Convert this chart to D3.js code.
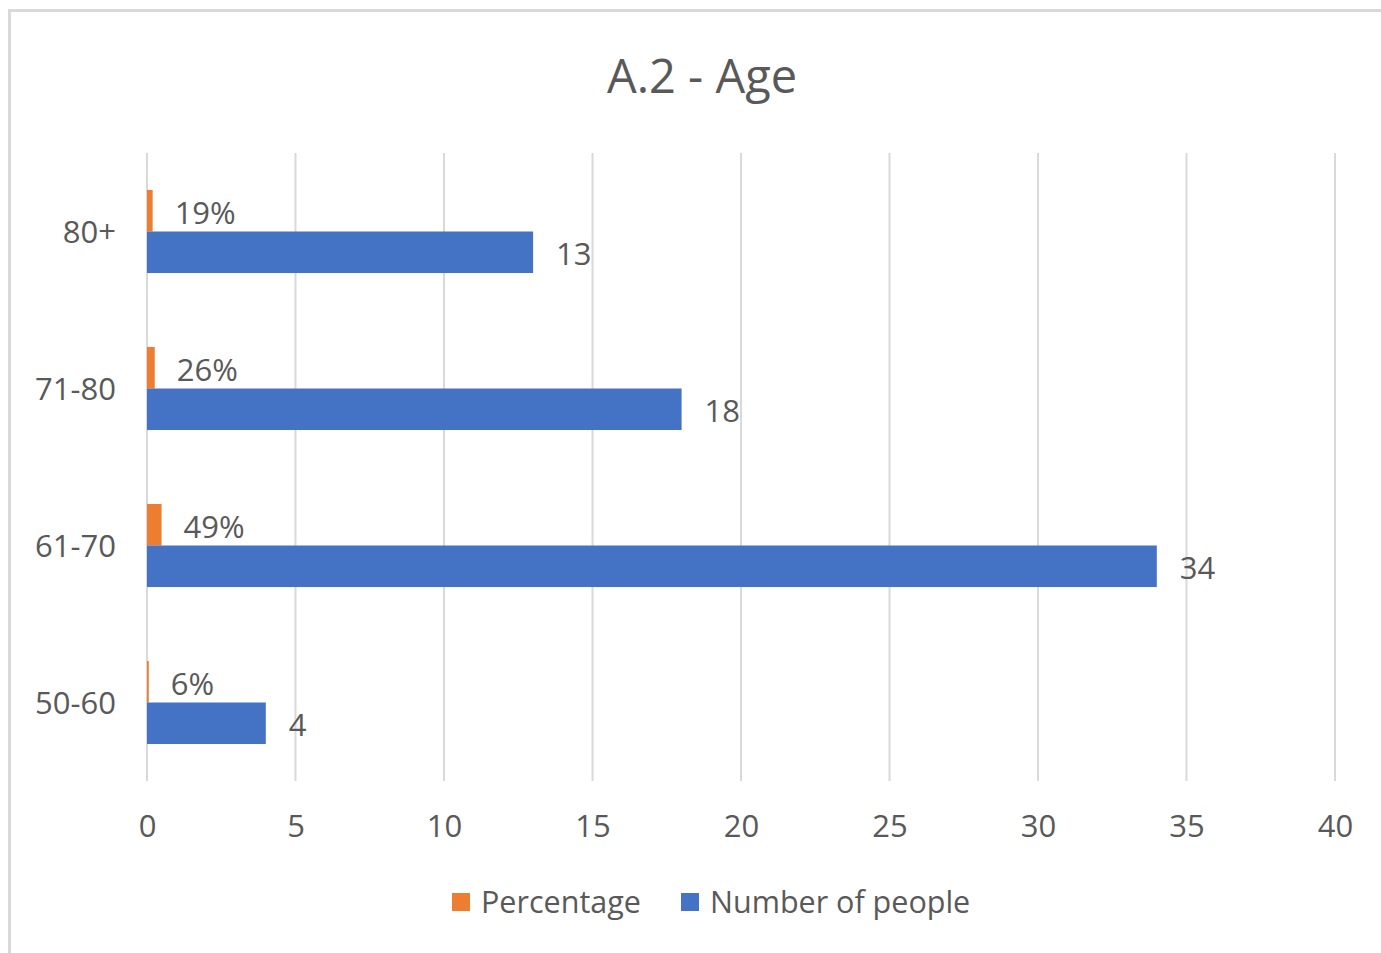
<!DOCTYPE html>
<html>
<head>
<meta charset="utf-8">
<script src="https://cdn.jsdelivr.net/npm/d3@7"></script>
<style>
  html, body { margin: 0; padding: 0; background: #ffffff; }
  svg { display: block; }
  text { font-family: "Open Sans", "Noto Sans", sans-serif; fill: #595959; }
</style>
</head>
<body>
<svg id="chart" width="1381" height="953"></svg>
<script>
// ---- data ----
const categories = ["50-60", "61-70", "71-80", "80+"];
const percentage = [0.06, 0.49, 0.26, 0.19];
const percentageLabels = ["6%", "49%", "26%", "19%"];
const numberOfPeople = [4, 34, 18, 13];
const seriesNames = ["Percentage", "Number of people"];
const seriesColors = ["#ED7D31", "#4472C4"];
const xTicks = [0, 5, 10, 15, 20, 25, 30, 35, 40];
const title = "A.2 - Age";

// ---- layout ----
const W = 1381, H = 953;
const plot = { left: 147, right: 1335, top: 153, bottom: 781 };
const svg = d3.select("#chart");

// chart border
svg.append("rect")
  .attr("x", 9.5).attr("y", 10.5)
  .attr("width", W + 20).attr("height", H + 20)
  .attr("fill", "none").attr("stroke", "#d9d9d9").attr("stroke-width", 3);

// title
svg.append("text")
  .attr("x", 702).attr("y", 93)
  .attr("text-anchor", "middle")
  .style("font-size", "47px")
  .text(title);

// scales
const x = d3.scaleLinear().domain([0, 40]).range([plot.left, plot.right]);
const y = d3.scaleBand()
  .domain(categories.slice().reverse())
  .range([plot.top, plot.bottom])
  .paddingInner(0.471).paddingOuter(0.2355);
const inner = d3.scaleBand().domain(seriesNames).range([0, y.bandwidth()]);

// gridlines
svg.append("g").selectAll("line").data(xTicks).join("line")
  .attr("x1", d => x(d)).attr("x2", d => x(d))
  .attr("y1", plot.top).attr("y2", plot.bottom)
  .attr("stroke", "#d9d9d9").attr("stroke-width", 2);

// x axis labels
const xAxis = d3.axisBottom(x).tickValues(xTicks).tickSize(0).tickPadding(0);
const gx = svg.append("g").attr("transform", `translate(0,${plot.bottom})`).call(xAxis);
gx.select(".domain").remove();
gx.selectAll("text")
  .attr("y", 45).attr("dy", "0.35em")
  .style("font-size", "31px").style("font-family", "'Open Sans', sans-serif")
  .attr("fill", "#595959");

// y axis labels
const yAxis = d3.axisLeft(y).tickSize(0).tickPadding(0);
const gy = svg.append("g").attr("transform", `translate(${plot.left},0)`).call(yAxis);
gy.select(".domain").remove();
gy.selectAll("text")
  .attr("x", -31).attr("y", 1).attr("dy", "0.35em")
  .style("font-size", "31px").style("font-family", "'Open Sans', sans-serif")
  .attr("fill", "#595959");

const rows = categories.map((c, i) => ({
  cat: c, pct: percentage[i], pctLabel: percentageLabels[i], num: numberOfPeople[i]
}));

// bars
const gBars = svg.append("g");
gBars.selectAll("rect.pct").data(rows).join("rect").attr("class", "pct")
  .attr("x", x(0))
  .attr("y", d => y(d.cat) + inner(seriesNames[0]))
  .attr("width", d => x(d.pct) - x(0))
  .attr("height", inner.bandwidth())
  .attr("fill", seriesColors[0]);
gBars.selectAll("rect.num").data(rows).join("rect").attr("class", "num")
  .attr("x", x(0))
  .attr("y", d => y(d.cat) + inner(seriesNames[1]))
  .attr("width", d => x(d.num) - x(0))
  .attr("height", inner.bandwidth())
  .attr("fill", seriesColors[1]);

// data labels
const gLab = svg.append("g").style("font-size", "31px");
gLab.selectAll("text.pct").data(rows).join("text").attr("class", "pct")
  .attr("x", d => x(d.pct) + 22)
  .attr("y", d => y(d.cat) + inner(seriesNames[0]) + inner.bandwidth() / 2 + 2)
  .attr("dy", "0.35em")
  .text(d => d.pctLabel);
gLab.selectAll("text.num").data(rows).join("text").attr("class", "num")
  .attr("x", d => x(d.num) + 23)
  .attr("y", d => y(d.cat) + inner(seriesNames[1]) + inner.bandwidth() / 2 + 2)
  .attr("dy", "0.35em")
  .text(d => d.num);

// legend
const legendItems = [
  { name: seriesNames[0], color: seriesColors[0], sx: 452, tx: 481 },
  { name: seriesNames[1], color: seriesColors[1], sx: 681, tx: 710 }
];
const gLeg = svg.append("g");
gLeg.selectAll("rect").data(legendItems).join("rect")
  .attr("x", d => d.sx).attr("y", 893).attr("width", 18).attr("height", 18)
  .attr("fill", d => d.color);
gLeg.selectAll("text").data(legendItems).join("text")
  .attr("x", d => d.tx).attr("y", 902).attr("dy", "0.35em")
  .style("font-size", "30.5px")
  .text(d => d.name);
</script>
</body>
</html>
